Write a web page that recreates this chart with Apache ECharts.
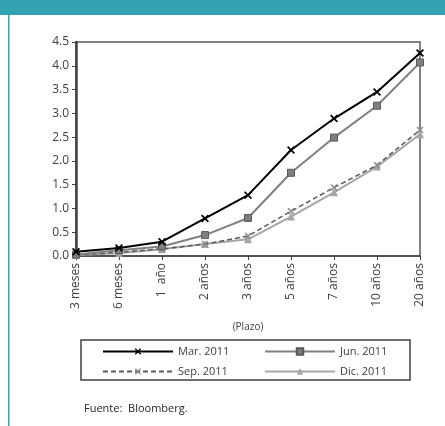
<!DOCTYPE html>
<html>
<head>
<meta charset="utf-8">
<script src="https://cdn.jsdelivr.net/npm/echarts@6/dist/echarts.min.js"></script>
<style>
  html, body { margin: 0; padding: 0; background: #fff; }
  #chart { width: 445px; height: 426px; }
</style>
</head>
<body>
<div id="chart"></div>
<script>
// Plazos de la curva de rendimientos
const plazos = ['3 meses', '6 meses', '1  año', '2 años', '3 años', '5 años', '7 años', '10 años', '20 años'];

// Rendimientos (%) por fecha
const mar2011 = [0.09, 0.17, 0.30, 0.79, 1.28, 2.23, 2.89, 3.45, 4.27];
const jun2011 = [0.03, 0.12, 0.20, 0.44, 0.80, 1.75, 2.49, 3.16, 4.07];
const sep2011 = [0.02, 0.08, 0.15, 0.25, 0.42, 0.94, 1.44, 1.91, 2.65];
const dic2011 = [0.02, 0.06, 0.14, 0.25, 0.35, 0.83, 1.34, 1.88, 2.56];

const seriesNames = ['Mar. 2011', 'Jun. 2011', 'Sep. 2011', 'Dic. 2011'];
const yTicks = { min: 0, max: 4.5, interval: 0.5 };

const crossPath = 'path://M0,1.5 L1.5,0 L5,3.5 L8.5,0 L10,1.5 L6.5,5 L10,8.5 L8.5,10 L5,6.5 L1.5,10 L0,8.5 L3.5,5 Z';
const font = '"Open Sans", sans-serif';

const legendStyle = {
  orient: 'vertical', top: 344, padding: 0,
  itemWidth: 70, itemHeight: 8, itemGap: 5,
  textStyle: { color: '#404040', fontFamily: font, fontSize: 11, lineHeight: 15 }
};

const chart = echarts.init(document.getElementById('chart'));
chart.setOption({
  animation: false,
  backgroundColor: '#ffffff',
  grid: {
    left: 76, right: 25, top: 42, bottom: 170,
    show: true, borderColor: '#595959', borderWidth: 1.5
  },
  xAxis: {
    type: 'category',
    data: plazos,
    boundaryGap: false,
    axisLine: { lineStyle: { color: '#404040', width: 1.5 } },
    axisTick: { show: true, alignWithLabel: true, length: 4, lineStyle: { color: '#404040' } },
    axisLabel: { rotate: 90, color: '#404040', fontFamily: font, fontSize: 12, margin: 7, interval: 0 },
    name: '(Plazo)',
    nameLocation: 'middle',
    nameGap: 66,
    nameTextStyle: { color: '#404040', fontFamily: font, fontSize: 10 }
  },
  yAxis: {
    type: 'value',
    min: yTicks.min, max: yTicks.max, interval: yTicks.interval,
    splitLine: { show: false },
    axisLine: { show: true, lineStyle: { color: '#404040', width: 2.5 } },
    axisTick: { show: true, length: 4, lineStyle: { color: '#404040' } },
    axisLabel: { color: '#404040', fontFamily: font, fontSize: 12, margin: 7, formatter: v => v.toFixed(1) }
  },
  legend: [
    Object.assign({ data: [seriesNames[0], seriesNames[2]], left: 102 }, legendStyle),
    Object.assign({ data: [seriesNames[1], seriesNames[3]], left: 264 }, legendStyle)
  ],
  series: [
    {
      name: seriesNames[0], type: 'line', data: mar2011,
      symbol: crossPath, symbolSize: 8,
      lineStyle: { color: '#000000', width: 2 },
      itemStyle: { color: '#000000' }, z: 5
    },
    {
      name: seriesNames[1], type: 'line', data: jun2011,
      symbol: 'rect', symbolSize: 7,
      lineStyle: { color: '#808080', width: 2 },
      itemStyle: { color: '#7f7f7f', borderColor: '#595959', borderWidth: 1 }, z: 4
    },
    {
      name: seriesNames[2], type: 'line', data: sep2011,
      symbol: crossPath, symbolSize: 7,
      lineStyle: { color: '#595959', width: 1.5, type: [5, 3] },
      itemStyle: { color: '#8c8c8c' }, z: 3
    },
    {
      name: seriesNames[3], type: 'line', data: dic2011,
      symbol: 'triangle', symbolSize: 8,
      lineStyle: { color: '#a6a6a6', width: 2 },
      itemStyle: { color: '#a6a6a6' }, z: 2
    }
  ],
  graphic: [
    { type: 'rect', shape: { x: 0, y: 0, width: 445, height: 15 }, style: { fill: '#33a2b1' } },
    { type: 'rect', shape: { x: 8, y: 15, width: 1.5, height: 411 }, style: { fill: '#33a2b1' } },
    { type: 'rect', shape: { x: 81, y: 340, width: 329, height: 40 }, style: { fill: 'none', stroke: '#404040', lineWidth: 1.5 } },
    { type: 'text', left: 84, top: 403, style: { text: 'Fuente:  Bloomberg.', fill: '#262626', font: '11px ' + font } }
  ]
});
</script>
</body>
</html>
